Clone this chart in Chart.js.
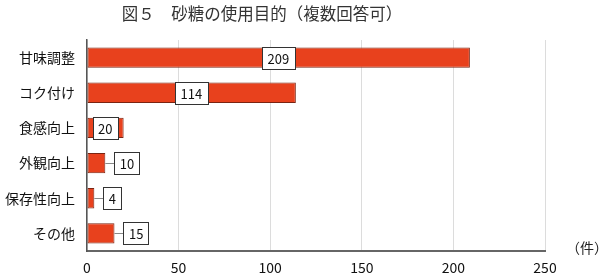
<!DOCTYPE html>
<html><head><meta charset="utf-8">
<script src="https://cdn.jsdelivr.net/npm/chart.js@4/dist/chart.umd.min.js"></script>
<style>html,body{margin:0;padding:0;background:#fff}#wrap{width:600px;height:275px}</style>
</head><body><div id="wrap"><canvas id="c" width="600" height="275"></canvas></div>
<script>
const titleText = '図５　砂糖の使用目的（複数回答可）';
const categories = ['甘味調整','コク付け','食感向上','外観向上','保存性向上','その他'];
const values = [209,114,20,10,4,15];
const xTicks = [0,50,100,150,200,250];
const unitLabel = '（件）';
const FONT = '"Noto Sans CJK JP", "Noto Sans", sans-serif';

const deco = {
  id:'deco',
  afterDatasetsDraw(chart){
    const ctx = chart.ctx, meta = chart.getDatasetMeta(0), xs = chart.scales.x;
    ctx.save();
    ctx.font = '13px ' + FONT;
    ctx.textAlign='center'; ctx.textBaseline='middle';
    meta.data.forEach((bar,i)=>{
      const v = values[i];
      const txt = String(v);
      const w = ctx.measureText(txt).width + 11, h = 22;
      let cx;
      const y = bar.y;
      if (v >= 20) {
        cx = xs.getPixelForValue(v/2);
      } else {
        const end = bar.x;
        const left = end + 9;
        cx = left + w/2;
        ctx.strokeStyle='#888'; ctx.lineWidth=1;
        ctx.beginPath(); ctx.moveTo(end, Math.round(y)+0.5); ctx.lineTo(left, Math.round(y)+0.5); ctx.stroke();
      }
      const bx = Math.round(cx - w/2)+0.5, by = Math.round(y - h/2)+0.5;
      ctx.fillStyle='#fff'; ctx.fillRect(bx,by,Math.round(w),h);
      ctx.strokeStyle='#333'; ctx.lineWidth=1; ctx.strokeRect(bx,by,Math.round(w),h);
      ctx.fillStyle='#111'; ctx.fillText(txt, cx, y+1);
    });
    // title
    ctx.font = '16.5px ' + FONT; ctx.fillStyle='#333';
    ctx.fillText(titleText, 262, 14);
    // unit
    ctx.font = '14px ' + FONT; ctx.textAlign='left'; ctx.fillStyle='#222';
    ctx.fillText(unitLabel, 566, chart.chartArea.bottom - 3);
    ctx.restore();
  }
};

new Chart(document.getElementById('c'), {
  type:'bar',
  data:{ labels:categories, datasets:[{ data:values, backgroundColor:'#E8411D', borderColor:'#7a2412', borderWidth:1, borderSkipped:false, barPercentage:0.8, categoryPercentage:0.72 }]},
  options:{
    indexAxis:'y', responsive:false, animation:false, devicePixelRatio:1,
    layout:{ padding:{ top:40, right:55, left:0, bottom:0 } },
    plugins:{ legend:{display:false}, tooltip:{enabled:false}, title:{display:false} },
    scales:{
      x:{ min:0, max:250, afterBuildTicks(s){ s.ticks = xTicks.map(v=>({value:v})); },
        grid:{ color:'#dcdcdc', drawTicks:false, lineWidth:1 },
        border:{ display:true, color:'#666', width:2 },
        ticks:{ padding:8, color:'#111', font:{ size:14, family:FONT } },
        afterFit(s){ s.height = 24; } },
      y:{ grid:{ display:false, drawTicks:false },
        border:{ display:true, color:'#555', width:1.5 },
        ticks:{ padding:12, color:'#111', font:{ size:14, family:FONT } },
        afterFit(s){ s.width = 87; } }
    }
  },
  plugins:[deco]
});
</script></body></html>
